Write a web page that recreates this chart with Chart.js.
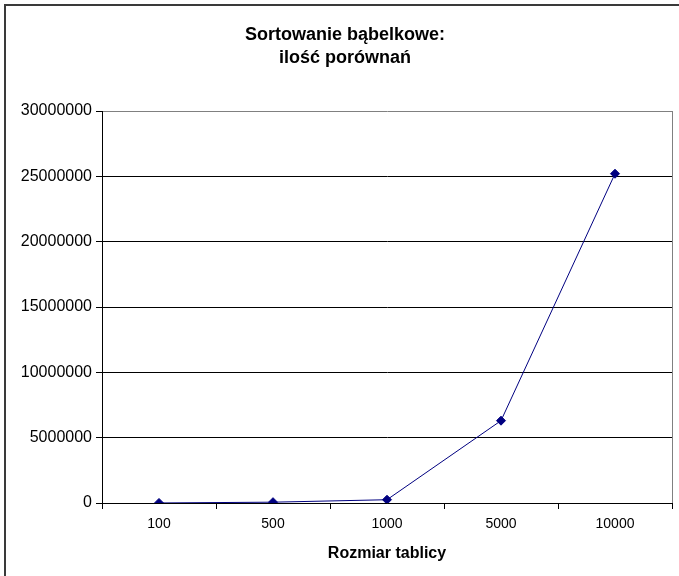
<!DOCTYPE html>
<html>
<head>
<meta charset="utf-8">
<script src="https://cdn.jsdelivr.net/npm/chart.js@4/dist/chart.umd.min.js"></script>
<style>
  html, body { margin: 0; padding: 0; background: #fff; }
  #wrap { width: 679px; height: 576px; }
</style>
</head>
<body>
<div id="wrap"><canvas id="chart" width="679" height="576"></canvas></div>
<script>
// Array sizes tested and the number of comparisons made by bubble sort
const categories = ['100', '500', '1000', '5000', '10000'];
const comparisons = [2500, 62500, 250000, 6300000, 25200000];
const yTickValues = [0, 5000000, 10000000, 15000000, 20000000, 25000000, 30000000];

const titleLines = ['Sortowanie bąbelkowe:', 'ilość porównań'];
const xAxisTitle = 'Rozmiar tablicy';

const FONT = '"Liberation Sans", Arial, sans-serif';

// White page with the dark frame on the left and top edges,
// plus the grey border on the right side of the plot area
const framePlugin = {
  id: 'frame',
  beforeDraw(chart) {
    const ctx = chart.ctx;
    ctx.save();
    ctx.fillStyle = '#ffffff';
    ctx.fillRect(0, 0, chart.width, chart.height);
    ctx.fillStyle = '#3a3a3a';
    ctx.fillRect(4, 4, 2, chart.height - 4);
    ctx.fillRect(4, 4, chart.width - 4, 2);
    ctx.restore();
  },
  beforeDatasetsDraw(chart) {
    const { ctx, chartArea } = chart;
    ctx.save();
    ctx.strokeStyle = '#808080';
    ctx.lineWidth = 1;
    ctx.beginPath();
    ctx.moveTo(Math.round(chartArea.right) + 0.5, chartArea.top);
    ctx.lineTo(Math.round(chartArea.right) + 0.5, chartArea.bottom);
    ctx.stroke();
    ctx.restore();
  }
};

new Chart(document.getElementById('chart'), {
  type: 'line',
  data: {
    labels: categories,
    datasets: [{
      data: comparisons,
      borderColor: '#000080',
      borderWidth: 1,
      backgroundColor: '#000080',
      pointStyle: 'rectRot',
      pointRadius: 4.5,
      pointBackgroundColor: '#000080',
      pointBorderColor: '#000080',
      pointBorderWidth: 1,
      tension: 0,
      fill: false
    }]
  },
  options: {
    responsive: false,
    animation: false,
    devicePixelRatio: 1,
    layout: { padding: { left: 18, right: 7, top: 0, bottom: 0 } },
    plugins: {
      legend: { display: false },
      tooltip: { enabled: false },
      title: {
        display: true,
        text: titleLines,
        color: '#000',
        font: { family: FONT, size: 18, weight: 'bold', lineHeight: 1.278 },
        padding: { top: 24, bottom: 41 }
      }
    },
    scales: {
      x: {
        type: 'category',
        offset: true,
        afterFit(scale) { scale.height = 73; },
        border: { display: true, color: '#000', width: 1 },
        grid: {
          offset: true,
          drawOnChartArea: false,
          drawTicks: true,
          tickLength: 6,
          tickColor: '#000',
          color: '#000'
        },
        ticks: {
          color: '#000',
          padding: 7,
          autoSkip: false,
          maxRotation: 0,
          font: { family: FONT, size: 14 }
        },
        title: {
          display: true,
          text: xAxisTitle,
          color: '#000',
          font: { family: FONT, size: 16, weight: 'bold' },
          padding: { top: 0, bottom: 13 }
        }
      },
      y: {
        min: yTickValues[0],
        max: yTickValues[yTickValues.length - 1],
        afterFit(scale) { scale.width = 84; },
        afterBuildTicks(scale) { scale.ticks = yTickValues.map(v => ({ value: v })); },
        border: { display: true, color: '#000', width: 1 },
        grid: {
          drawTicks: true,
          tickLength: 6,
          tickColor: '#000',
          lineWidth: 1,
          color: c => (c.tick && c.tick.value === yTickValues[yTickValues.length - 1]) ? '#808080' : '#000'
        },
        ticks: {
          color: '#000',
          padding: 4,
          font: { family: FONT, size: 16 },
          callback: v => String(v)
        }
      }
    }
  },
  plugins: [framePlugin]
});
</script>
</body>
</html>
